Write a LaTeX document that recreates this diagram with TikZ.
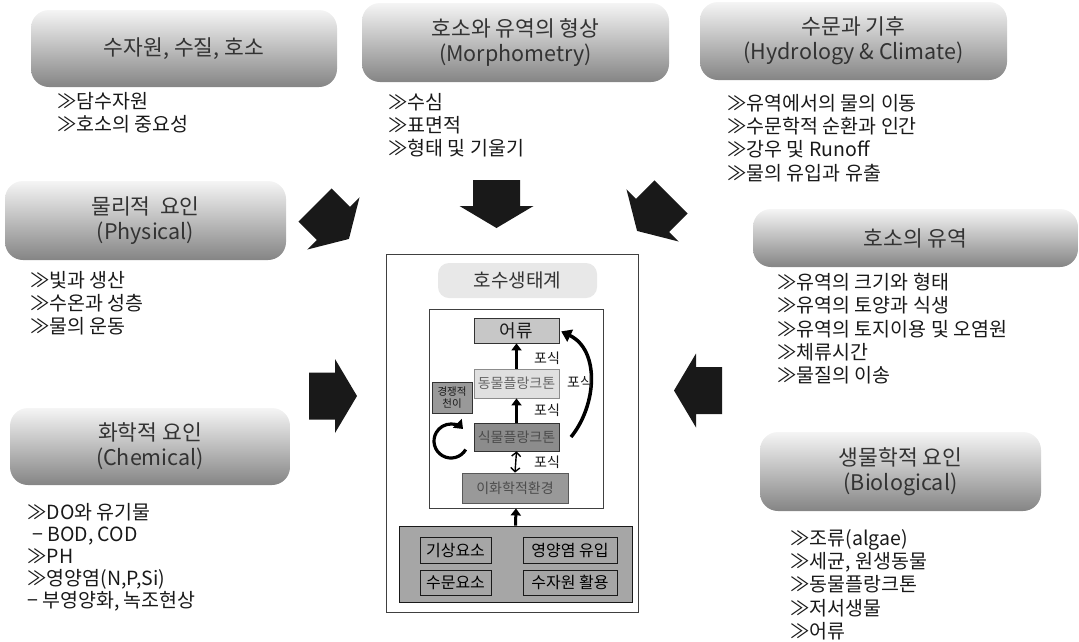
\documentclass[tikz,border=0pt]{standalone}
\usepackage{fontspec}
\setmainfont{Noto Sans CJK KR}
\usetikzlibrary{arrows.meta}
\tikzset{
  topic/.style={rounded corners=18pt, top color=black!4, bottom color=black!48, text=black!80, align=center, inner sep=0pt, font=\fontsize{21.5}{25}\selectfont},
  points/.style={anchor=north west, inner sep=0pt, align=left, text=black!90, font=\fontsize{19.5}{23.3}\selectfont},
  level/.style={draw=black!80, line width=0.8pt, minimum width=85pt, inner sep=0pt, font=\fontsize{14}{14}\selectfont},
  cause/.style={draw=black!90, line width=0.8pt, fill=black!35, inner sep=0pt, font=\fontsize{16}{16}\selectfont},
  feed/.style={line width=3pt, -{Triangle[width=10pt,length=7pt]}},
  eat/.style={font=\fontsize{14}{14}\selectfont, text=black!90},
  blockarrow/.style={fill=black!90}
}
\begin{document}
\begin{tikzpicture}[x=1pt,y=-1pt]
\useasboundingbox (0,0) rectangle (1079,641);

\node[topic, minimum width=306pt, minimum height=77pt] (water) at (184,48.5) {수자원, 수질, 호소};
\node[topic, minimum width=307pt, minimum height=79pt] (morpho) at (515.5,42.5) {호소와 유역의 형상\\(Morphometry)};
\node[topic, minimum width=307pt, minimum height=78pt] (hydro) at (853.5,41) {수문과 기후\\(Hydrology \& Climate)};
\node[topic, minimum width=281pt, minimum height=79pt] (physical) at (145.5,220.5) {물리적 \ 요인\\(Physical)};
\node[topic, minimum width=280pt, minimum height=77pt] (chemical) at (150,446.5) {화학적 요인\\(Chemical)};
\node[topic, minimum width=325pt, minimum height=58pt] (basin) at (915.5,238) {호소의 유역};
\node[topic, minimum width=281pt, minimum height=79pt] (biology) at (900.5,471.5) {생물학적 요인\\(Biological)};

\node[points] (waterlist) at (57,92) {≫담수자원\\≫호소의 중요성};
\node[points] (morpholist) at (388,93) {≫수심\\≫표면적\\≫형태 및 기울기};
\node[points] (hydrolist) at (727,94) {≫유역에서의 물의 이동\\≫수문학적 순환과 인간\\≫강우 및 Runoff\\≫물의 유입과 유출};
\node[points] (physicallist) at (30,271) {≫빛과 생산\\≫수온과 성층\\≫물의 운동};
\node[points, font=\fontsize{19.5}{22}\selectfont] (chemicallist) at (27,503) {≫DO와 유기물\\\hspace{5pt}− BOD, COD\\≫PH\\≫영양염(N,P,Si)\\− 부영양화, 녹조현상};
\node[points] (basinlist) at (777,273) {≫유역의 크기와 형태\\≫유역의 토양과 식생\\≫유역의 토지이용 및 오염원\\≫체류시간\\≫물질의 이송};
\node[points] (biologylist) at (790,529) {≫조류(algae)\\≫세균, 원생동물\\≫동물플랑크톤\\≫저서생물\\≫어류};

\fill[blockarrow, cm={0.707,-0.707,0.707,0.707,(315,205)}] (0,-23.5) -- (26,-23.5) -- (26,-37) -- (48,0) -- (26,37) -- (26,23.5) -- (0,23.5) -- cycle;
\fill[blockarrow, cm={0,-1,1,0,(496.5,180)}] (0,-23.5) -- (26,-23.5) -- (26,-37) -- (48,0) -- (26,37) -- (26,23.5) -- (0,23.5) -- cycle;
\fill[blockarrow, cm={-0.707,-0.707,0.707,-0.707,(671,197)}] (0,-23.5) -- (26,-23.5) -- (26,-37) -- (48,0) -- (26,37) -- (26,23.5) -- (0,23.5) -- cycle;
\fill[blockarrow, cm={1,0,0,1,(309,396)}] (0,-23.5) -- (26,-23.5) -- (26,-37) -- (48,0) -- (26,37) -- (26,23.5) -- (0,23.5) -- cycle;
\fill[blockarrow, cm={-1,0,0,-1,(722,390.5)}] (0,-23.5) -- (26,-23.5) -- (26,-37) -- (48,0) -- (26,37) -- (26,23.5) -- (0,23.5) -- cycle;

\node[draw=black!75, line width=0.8pt, fill=white, minimum width=252pt, minimum height=358pt] (lake) at (512,433) {};
\node[fill=black!9, rounded corners=11pt, minimum width=159pt, minimum height=35pt, inner sep=0pt, text=black!80, font=\fontsize{19}{19}\selectfont] (title) at (517.5,280.5) {호수생태계};
\node[draw=black!75, line width=0.8pt, fill=white, minimum width=174pt, minimum height=199pt] (inner) at (516,408.5) {};

\node[level, fill=black!22, minimum height=25pt, text=black!90, font=\fontsize{18}{18}\selectfont] (fish) at (516.5,330.5) {어류};
\node[level, draw=black!45, fill=black!12, minimum height=29pt, text=black!60] (zoo) at (516.5,383.5) {동물플랑크톤};
\node[level, fill=black!45, minimum height=28pt, text=black!70] (phyto) at (516.5,437) {식물플랑크톤};
\node[level, draw=black!65, fill=black!40, minimum width=106pt, minimum height=30pt, text=black!70] (env) at (515,488) {이화학적환경};
\node[level, fill=black!40, minimum width=40pt, minimum height=31pt, align=center, text=black!90, font=\fontsize{10.5}{12}\selectfont] (succession) at (452,397.5) {경쟁적\\천이};

\node[cause, minimum width=233pt, minimum height=76pt] (factors) at (515.5,564) {};
\node[cause, minimum width=71pt, minimum height=26pt] (weather) at (455.5,550) {기상요소};
\node[cause, minimum width=94pt, minimum height=26pt] (nutrient) at (570,550) {영양염 유입};
\node[cause, minimum width=71pt, minimum height=25pt] (hydrofac) at (455.5,582.5) {수문요소};
\node[cause, minimum width=94pt, minimum height=25pt] (use) at (570,582.5) {수자원 활용};

\draw[feed] (zoo.north) -- (fish.south);
\draw[feed] (phyto.north) -- (zoo.south);
\draw[line width=1.4pt, {Straight Barb[width=9pt,length=4pt]}-{Straight Barb[width=9pt,length=4pt]}] (env.north) -- (phyto.south);
\draw[feed] (factors.north) -- (inner.south);
\node[eat] (eat1) at (547,358) {포식};
\node[eat] (eat2) at (547,410) {포식};
\node[eat] (eat3) at (547,462) {포식};

\coordinate (loopstart) at (571,437);
\draw[line width=3.5pt, -{Triangle[width=13pt,length=10pt]}, shorten >=2pt] (loopstart) .. controls (597,405) and (600,350) .. (fish.east);
\node[eat] (eat4) at (580,382) {포식};
\draw[line width=3.2pt, -{Triangle[width=12pt,length=8pt]}] (451,441) ++(30:17) arc[start angle=30, end angle=315, radius=17];
\end{tikzpicture}
\end{document}
